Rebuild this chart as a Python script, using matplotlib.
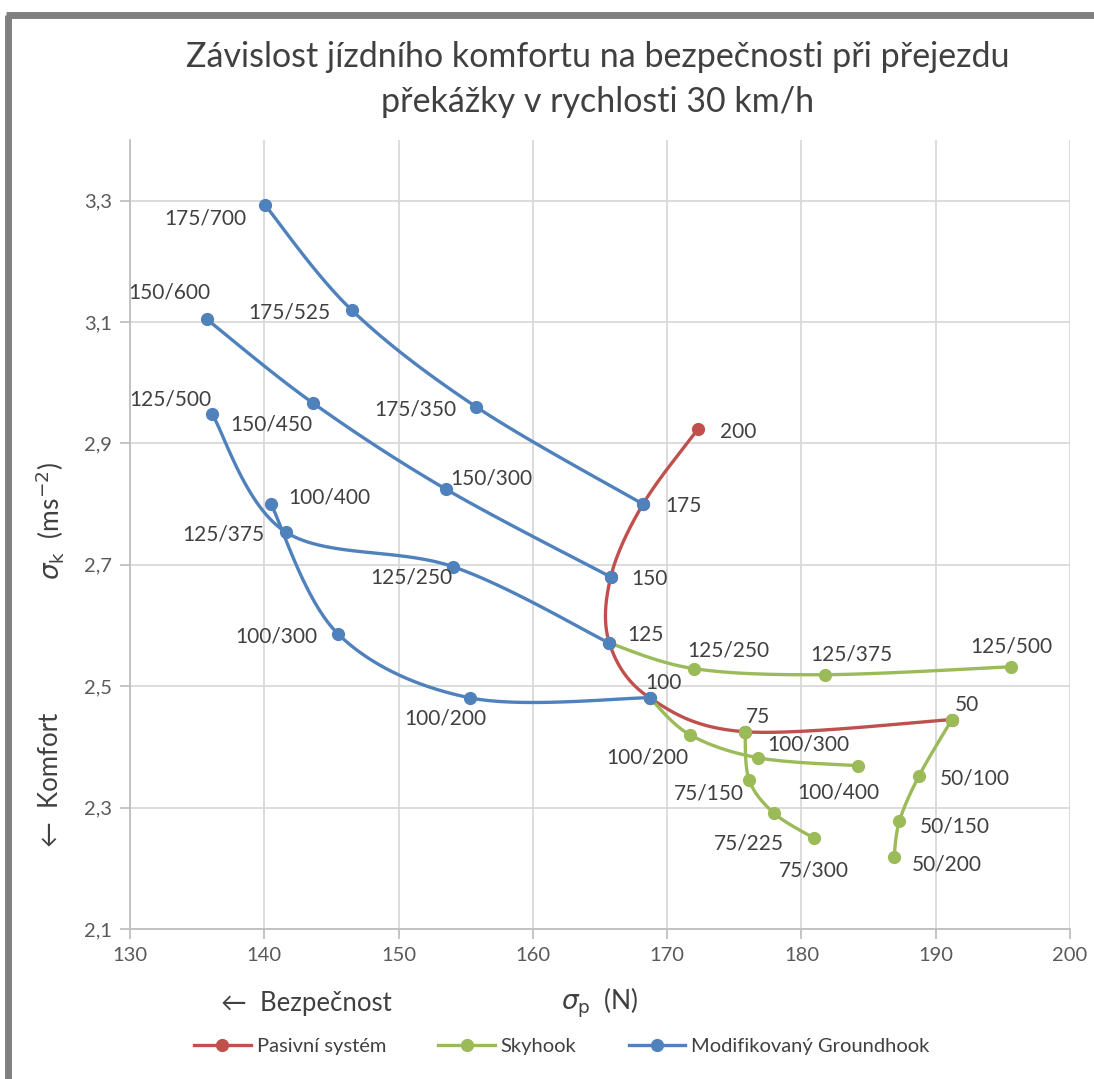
import numpy as np
import matplotlib
matplotlib.use("Agg")
import matplotlib.pyplot as plt
from matplotlib.lines import Line2D

# ---- data ----
pas_x = [172.3, 168.2, 165.8, 165.7, 168.7, 175.8, 191.2]
pas_y = [2.924, 2.800, 2.680, 2.571, 2.481, 2.425, 2.445]
pas_lab = ['200', '175', '150', '125', '100', '75', '50']

sky_x = [[165.7, 172.0, 181.75, 195.6],
         [168.7, 171.7, 176.8, 184.2],
         [175.8, 176.1, 177.95, 180.9],
         [191.2, 188.75, 187.3, 186.9]]
sky_y = [[2.571, 2.529, 2.519, 2.532],
         [2.481, 2.420, 2.382, 2.369],
         [2.425, 2.346, 2.291, 2.250],
         [2.445, 2.352, 2.278, 2.219]]
sky_lab = [['', '125/250', '125/375', '125/500'],
           ['', '100/200', '100/300', '100/400'],
           ['', '75/150', '75/225', '75/300'],
           ['', '50/100', '50/150', '50/200']]

mgh_x = [[140.05, 146.5, 155.8, 168.2],
         [135.7, 143.6, 153.5, 165.8],
         [136.1, 141.6, 154.05, 165.7],
         [140.5, 145.5, 155.3, 168.7]]
mgh_y = [[3.293, 3.120, 2.960, 2.800],
         [3.105, 2.967, 2.825, 2.680],
         [2.949, 2.754, 2.697, 2.571],
         [2.800, 2.586, 2.481, 2.481]]
mgh_lab = [['175/700', '175/525', '175/350', ''],
           ['150/600', '150/450', '150/300', ''],
           ['125/500', '125/375', '125/250', ''],
           ['100/400', '100/300', '100/200', '']]

# label offsets in pixels (dx right, dy down)
pas_off = [(40, 3), (40, 2), (39, 2), (36, -8), (14, -15), (13, -15), (15, -15)]
sky_off = [[None, (34, -18), (26, -20), (0, -20)],
           [None, (-43, 23), (50, -13), (-20, 27)],
           [None, (-40, 14), (-25, 30), (0, 33)],
           [None, (56, 2), (55, 6), (53, 8)]]
mgh_off = [[(-60, 14), (-62, 3), (-61, 2), None],
           [(-37, -27), (-41, 22), (46, -10), None],
           [(-42, -14), (-62, 2), (-42, 11), None],
           [(58, -7), (-62, 2), (-24, 21), None]]

RED = '#C0504D'
GREEN = '#9BBB59'
BLUE = '#4F81BD'
TXT = '#404040'
TICK = '#595959'

plt.rcParams['font.family'] = ['Lato', 'DejaVu Sans']


def smooth(xs, ys, n=40):
    # Excel-like smoothing: cubic Bezier with Catmull-Rom control points
    p = np.column_stack([xs, ys]).astype(float)
    sc = np.array([13.43, 606.7])  # work in screen-like units
    q = p * sc
    pts = [q[0]]
    for i in range(len(q) - 1):
        p0 = q[i - 1] if i > 0 else q[i]
        p1 = q[i]
        p2 = q[i + 1]
        p3 = q[i + 2] if i + 2 < len(q) else q[i + 1]
        c1 = p1 + (p2 - p0) / 6.0
        c2 = p2 - (p3 - p1) / 6.0
        t = np.linspace(0, 1, n)[1:, None]
        seg = ((1 - t) ** 3) * p1 + 3 * ((1 - t) ** 2) * t * c1 + 3 * (1 - t) * t ** 2 * c2 + t ** 3 * p2
        pts.extend(seg)
    pts = np.array(pts) / sc
    return pts[:, 0], pts[:, 1]


fig = plt.figure(figsize=(10.94, 10.79), dpi=100)
ax = fig.add_axes([130 / 1094, 1 - 929 / 1079, 940 / 1094, 789 / 1079])

def draw(xs, ys, labs, offs, color):
    sx, sy = smooth(xs, ys)
    ax.plot(sx, sy, color=color, lw=2.4, solid_capstyle='round', zorder=3)
    ax.plot(xs, ys, 'o', color=color, ms=8.5, zorder=4)
    for x, y, lab, off in zip(xs, ys, labs, offs):
        if lab and off:
            ax.annotate(lab, (x, y), xytext=(off[0] * 0.72, -off[1] * 0.72),
                        textcoords='offset points', ha='center', va='center',
                        fontsize=15, color=TXT, zorder=5)

draw(pas_x, pas_y, pas_lab, pas_off, RED)
for i in range(4):
    draw(sky_x[i], sky_y[i], sky_lab[i], sky_off[i], GREEN)
for i in range(4):
    draw(mgh_x[i], mgh_y[i], mgh_lab[i], mgh_off[i], BLUE)

ax.set_xlim(130, 200)
ax.set_ylim(2.1, 3.4)
ax.set_xticks(np.arange(130, 201, 10))
yt = np.arange(2.1, 3.31, 0.2)
ax.set_yticks(yt)
ax.set_yticklabels([('%.1f' % v).replace('.', ',') for v in yt])
ax.grid(True, color='#D9D9D9', lw=1.3, zorder=0)
for s in ['top', 'right']:
    ax.spines[s].set_visible(False)
for s in ['left', 'bottom']:
    ax.spines[s].set_color('#BFBFBF')
    ax.spines[s].set_linewidth(1.3)
ax.tick_params(colors='#BFBFBF', labelcolor=TICK, labelsize=14.5, length=7, width=1.3, pad=6)

fig.text(598 / 1094, 1 - 57 / 1079, 'Závislost jízdního komfortu na bezpečnosti při přejezdu',
         ha='center', va='center', fontsize=24.5, color=TXT)
fig.text(598 / 1094, 1 - 102 / 1079, 'překážky v rychlosti 30 km/h',
         ha='center', va='center', fontsize=24.5, color=TXT)

fig.text(600 / 1094, 1 - 1003 / 1079, r'$\sigma_{\mathrm{p}}$  (N)', ha='center', va='center',
         fontsize=19, color=TXT)
fig.text(306 / 1094, 1 - 1003 / 1079, '←  Bezpečnost', ha='center', va='center',
         fontsize=18.5, color=TXT)
fig.text(50 / 1094, 1 - 521 / 1079, r'$\sigma_{\mathrm{k}}$  (ms$^{-2}$)', ha='center', va='center',
         rotation=90, fontsize=19, color=TXT)
fig.text(50 / 1094, 1 - 780 / 1079, '←  Komfort', ha='center', va='center',
         rotation=90, fontsize=18.5, color=TXT)

handles = [Line2D([], [], color=c, lw=2.4, marker='o', ms=8.5) for c in (RED, GREEN, BLUE)]
fig.legend(handles, ['Pasivní systém', 'Skyhook', 'Modifikovaný Groundhook'],
           loc='center', bbox_to_anchor=(562 / 1094, 1 - 1046 / 1079), ncol=3, frameon=False,
           fontsize=14.5, labelcolor=TXT, handlelength=2.8, columnspacing=2.6, handletextpad=0.3)

# grey frame edges (left and top)
fig.add_artist(Line2D([8 / 1094, 8 / 1094], [0, 1 - 15 / 1079], color='#808080', lw=5,
                      transform=fig.transFigure, solid_capstyle='butt'))
fig.add_artist(Line2D([5.5 / 1094, 1], [1 - 15 / 1079, 1 - 15 / 1079], color='#808080', lw=5,
                      transform=fig.transFigure, solid_capstyle='butt'))

fig.savefig('out.png', dpi=100)
